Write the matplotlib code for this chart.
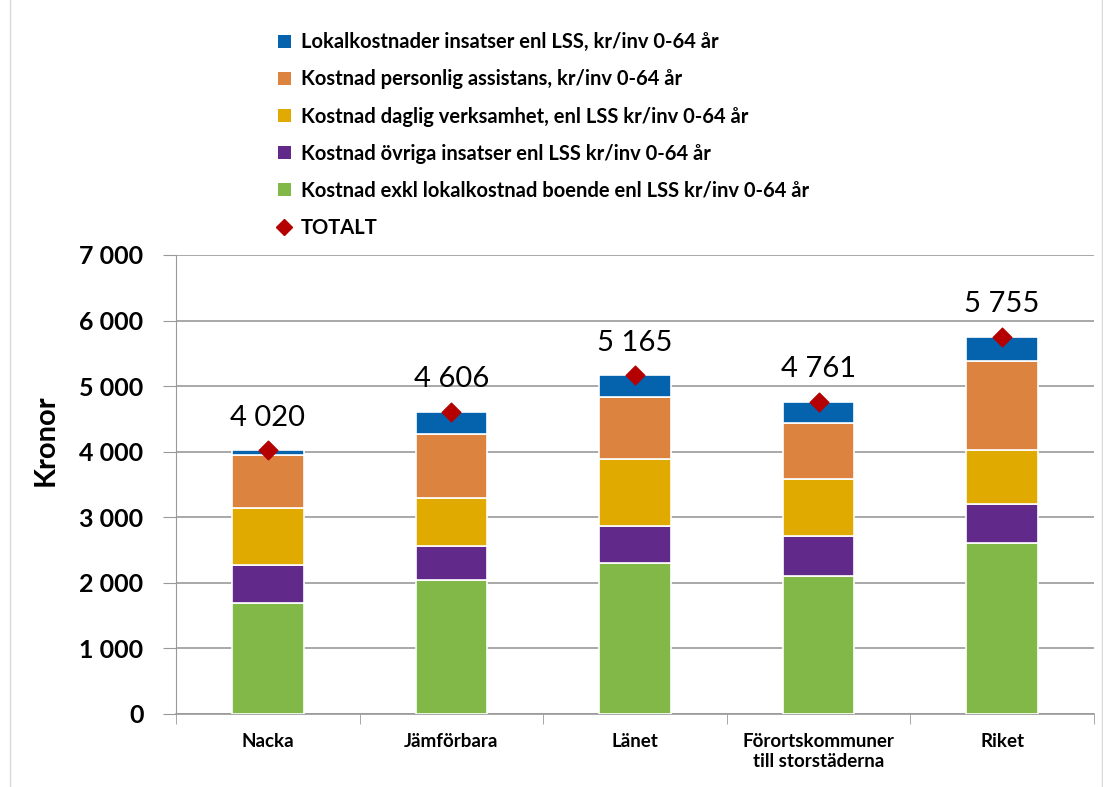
import matplotlib
matplotlib.use("Agg")
import matplotlib.pyplot as plt
from matplotlib.lines import Line2D
from matplotlib.patches import Patch, Rectangle
import numpy as np

plt.rcParams['font.family'] = ['Lato', 'DejaVu Sans']

categories = ["Nacka", "Jämförbara", "Länet", "Förortskommuner\ntill storstäderna", "Riket"]
green = [1700, 2044, 2298, 2105, 2613]
purple = [570, 523, 569, 614, 594]
yellow = [870, 722, 1022, 860, 814]
orange = [810, 981, 941, 864, 1358]
blue = [70, 336, 335, 318, 376]
totals = [4020, 4606, 5165, 4761, 5755]
total_labels = ["4 020", "4 606", "5 165", "4 761", "5 755"]
yticks = [0, 1000, 2000, 3000, 4000, 5000, 6000, 7000]
ytick_labels = ["0", "1 000", "2 000", "3 000", "4 000", "5 000", "6 000", "7 000"]

series = [
    ("Kostnad exkl lokalkostnad boende enl LSS kr/inv 0-64 år", green, "#82B847"),
    ("Kostnad övriga insatser enl LSS kr/inv 0-64 år", purple, "#612A8A"),
    ("Kostnad daglig verksamhet, enl LSS kr/inv 0-64 år", yellow, "#E1AA00"),
    ("Kostnad personlig assistans, kr/inv 0-64 år", orange, "#DC8340"),
    ("Lokalkostnader insatser enl LSS, kr/inv 0-64 år", blue, "#0563AE"),
]

fig = plt.figure(figsize=(11.03, 7.87), dpi=100)
ax = fig.add_axes([0.1596, 0.0928, 0.9918 - 0.1596, 0.676 - 0.0928])

x = np.arange(len(categories))
bottom = np.zeros(len(categories))
for name, vals, col in series:
    ax.bar(x, vals, bottom=bottom, width=0.39, color=col, edgecolor="white", linewidth=1.2, zorder=3)
    bottom += np.array(vals)

ax.scatter(x, totals, marker="D", s=90, color="#B40000", zorder=5)
for xi, t, lab in zip(x, totals, total_labels):
    ax.text(xi, t + 300, lab, ha="center", va="bottom", fontsize=21, color="black")

ax.set_xlim(-0.5, len(categories) - 0.5)
ax.set_ylim(0, 7000)
ax.set_yticks(yticks)
ax.set_yticklabels(ytick_labels, fontsize=18, fontweight="bold")
ax.set_xticks(x)
ax.set_xticklabels(categories, fontsize=13.5, fontweight="bold")
ax.set_xticks(np.arange(-0.5, len(categories), 1), minor=True)
ax.tick_params(axis="x", which="major", length=0, pad=14)
ax.tick_params(axis="x", which="minor", length=7, color="#999999")
ax.tick_params(axis="y", length=9.5, color="#999999", pad=14)
ax.grid(axis="y", color="#999999", linewidth=1.2, zorder=0)
for s in ["top", "right"]:
    ax.spines[s].set_visible(False)
ax.spines["left"].set_color("#999999")
ax.spines["bottom"].set_color("#999999")
ax.spines["bottom"].set_linewidth(1.2)
ax.set_ylabel("Kronor", fontsize=21, fontweight="bold", labelpad=4)
ax.yaxis.set_label_coords(-0.128, 0.597)

handles = [Patch(facecolor=c, edgecolor="none") for _, _, c in series[::-1]]
labels = [n for n, _, _ in series[::-1]]
handles.append(Line2D([], [], marker="D", color="#B40000", linestyle="none", markersize=8))
labels.append("TOTALT")
fig.legend(handles, labels, loc="upper left", bbox_to_anchor=(0.236, 0.982), frameon=False,
           prop={"size": 14.5, "weight": "bold"}, labelspacing=0.85, handlelength=0.6,
           handleheight=0.6, handletextpad=0.5)

fig.patches.append(Rectangle((0.009, -0.01), 0.99, 1.02, transform=fig.transFigure,
                             fill=False, edgecolor="#d9d9d9", linewidth=1))

fig.savefig("out.png", dpi=100)
